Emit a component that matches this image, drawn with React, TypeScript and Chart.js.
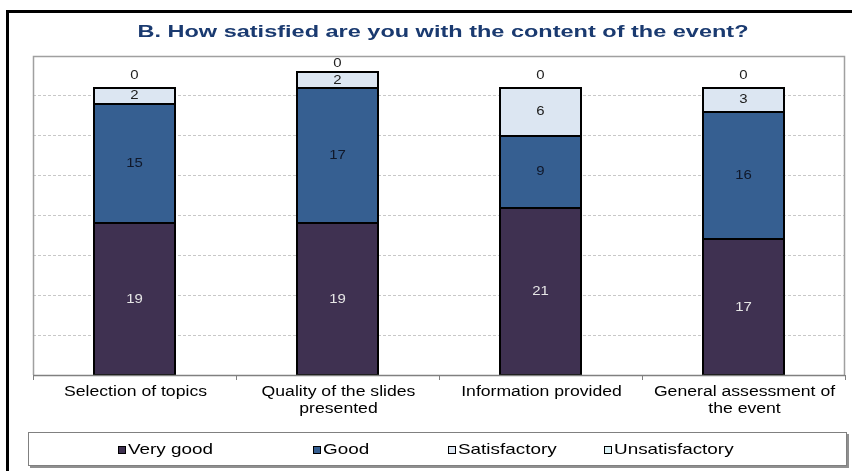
import React, { useEffect, useRef } from "react";
import { Chart, registerables } from "chart.js";

Chart.register(...registerables);

const categories: string[][] = [
  ["Selection of topics"],
  ["Quality of the slides", "presented"],
  ["Information provided"],
  ["General assessment of", "the event"],
];
const seriesNames = ["Very good", "Good", "Satisfactory", "Unsatisfactory"];
const veryGood = [19, 19, 21, 17];
const good = [15, 17, 9, 16];
const satisfactory = [2, 2, 6, 3];
const unsatisfactory = [0, 0, 0, 0];
const seriesColors = ["#3F3151", "#365F91", "#DCE6F2", "#DBF2F6"];
const labelColors = ["#E6E6E6", "#10182A", "#202020", "#202020"];
const titleText = "B. How satisfied are you with the content of the event?";
const yMax = 40;
const yStep = 5;

const FONT = "'Liberation Sans', Arial, sans-serif";

function stretchText(ctx: CanvasRenderingContext2D, text: string, x: number, y: number, sx: number, align: "left" | "center") {
  ctx.save();
  ctx.translate(x, y);
  ctx.scale(sx, 1);
  ctx.textAlign = align;
  ctx.textBaseline = "middle";
  ctx.fillText(text, 0, 0);
  ctx.restore();
}

const framePlugin = {
  id: "framePlugin",
  beforeDraw(chart: any) {
    const { ctx, width, height } = chart;
    ctx.save();
    ctx.fillStyle = "#ffffff";
    ctx.fillRect(0, 0, width, height);
    ctx.fillStyle = "#000000";
    ctx.fillRect(6, 10, 3, height - 10);
    ctx.fillRect(6, 10, width - 6, 3);
    ctx.fillStyle = "#1A3A70";
    ctx.font = `bold 17px ${FONT}`;
    const w = ctx.measureText(titleText).width;
    stretchText(ctx, titleText, 443, 32, 611 / w, "center");
    ctx.restore();
  },
  afterDatasetsDraw(chart: any) {
    const { ctx, chartArea } = chart;
    ctx.save();
    ctx.strokeStyle = "#000000";
    ctx.lineWidth = 2;
    chart.data.datasets.forEach((ds: any, di: number) => {
      const meta = chart.getDatasetMeta(di);
      meta.data.forEach((bar: any, i: number) => {
        if (ds.data[i] === 0) return;
        const l = Math.round(bar.x - bar.width / 2);
        const r = Math.round(bar.x + bar.width / 2);
        const t = Math.round(bar.y);
        const b = Math.round(bar.base);
        ctx.strokeRect(l, t, r - l, b - t);
      });
    });
    ctx.font = `13px ${FONT}`;
    chart.data.datasets.forEach((ds: any, di: number) => {
      const meta = chart.getDatasetMeta(di);
      meta.data.forEach((bar: any, i: number) => {
        const v = ds.data[i];
        ctx.fillStyle = labelColors[di];
        const y = v === 0 ? Math.max(bar.y - 12, chartArea.top + 7) : (bar.y + bar.base) / 2;
        stretchText(ctx, String(v), bar.x, y, 1.15, "center");
      });
    });
    ctx.restore();
  },
  afterDraw(chart: any) {
    const { ctx, chartArea } = chart;
    ctx.save();
    ctx.strokeStyle = "#A0A0A0";
    ctx.lineWidth = 1.5;
    ctx.beginPath();
    ctx.moveTo(chartArea.left + 0.5, chartArea.bottom);
    ctx.lineTo(chartArea.left + 0.5, chartArea.top + 0.5);
    ctx.lineTo(chartArea.right - 0.5, chartArea.top + 0.5);
    ctx.lineTo(chartArea.right - 0.5, chartArea.bottom);
    ctx.stroke();
    ctx.strokeStyle = "#808080";
    ctx.beginPath();
    ctx.moveTo(chartArea.left, chartArea.bottom + 0.5);
    ctx.lineTo(chartArea.right, chartArea.bottom + 0.5);
    ctx.stroke();

    const xScale = chart.scales.x;
    ctx.fillStyle = "#000000";
    ctx.font = `14px ${FONT}`;
    const catScale = 143 / ctx.measureText(categories[0][0]).width;
    categories.forEach((lines, i) => {
      const x = xScale.getPixelForValue(i);
      lines.forEach((line, j) => {
        stretchText(ctx, line, x + 1, 392 + j * 17, catScale, "center");
      });
    });

    const lx = 28, ly = 432, lw = 819, lh = 34;
    ctx.fillStyle = "#909090";
    ctx.fillRect(lx + 2, ly + 2, lw, lh);
    ctx.fillStyle = "#ffffff";
    ctx.fillRect(lx, ly, lw, lh);
    ctx.strokeStyle = "#808080";
    ctx.lineWidth = 1;
    ctx.strokeRect(lx + 0.5, ly + 0.5, lw - 1, lh - 1);
    const itemX = [118, 313, 448, 604];
    ctx.font = `15px ${FONT}`;
    const legScale = 85 / ctx.measureText(seriesNames[0]).width;
    seriesNames.forEach((name, i) => {
      const x = itemX[i];
      const y = 450;
      ctx.fillStyle = seriesColors[i];
      ctx.fillRect(x, y - 4, 8, 8);
      ctx.strokeStyle = "#000000";
      ctx.lineWidth = 1;
      ctx.strokeRect(x + 0.5, y - 3.5, 7, 7);
      ctx.fillStyle = "#000000";
      stretchText(ctx, name, x + 10, y, legScale, "left");
    });
    ctx.restore();
  },
};

export default function App() {
  const canvasRef = useRef<HTMLCanvasElement | null>(null);

  useEffect(() => {
    const values = [veryGood, good, satisfactory, unsatisfactory];
    const chart = new Chart(canvasRef.current as HTMLCanvasElement, {
      type: "bar",
      data: {
        labels: categories.map((c) => c.join(" ")),
        datasets: seriesNames.map((name, i) => ({
          label: name,
          data: values[i],
          backgroundColor: seriesColors[i],
          borderWidth: 0,
          barPercentage: 0.4,
          categoryPercentage: 1,
        })),
      },
      options: {
        responsive: false,
        animation: false,
        layout: { padding: { left: 33, right: 7, top: 56, bottom: 0 } },
        plugins: {
          legend: { display: false },
          title: { display: false },
          tooltip: { enabled: false },
        },
        scales: {
          x: {
            stacked: true,
            grid: {
              offset: true,
              drawOnChartArea: false,
              drawTicks: true,
              tickLength: 5,
              color: "#808080",
            },
            border: { display: false },
            ticks: { display: false },
            afterFit(scale: any) {
              scale.height = 96;
            },
          },
          y: {
            stacked: true,
            min: 0,
            max: yMax,
            ticks: { display: false, stepSize: yStep },
            border: { display: false, dash: [3, 2] },
            grid: {
              color: "#C8C8C8",
              lineWidth: 1,
              drawTicks: false,
            },
            afterFit(scale: any) {
              scale.width = 0;
            },
          },
        },
      },
      plugins: [framePlugin],
    } as any);
    return () => chart.destroy();
  }, []);

  return (
    <div style={{ position: "fixed", left: 0, top: 0, width: 852, height: 471, background: "#fff" }}>
      <canvas ref={canvasRef} width={852} height={471} style={{ width: 852, height: 471, display: "block" }} />
    </div>
  );
}
